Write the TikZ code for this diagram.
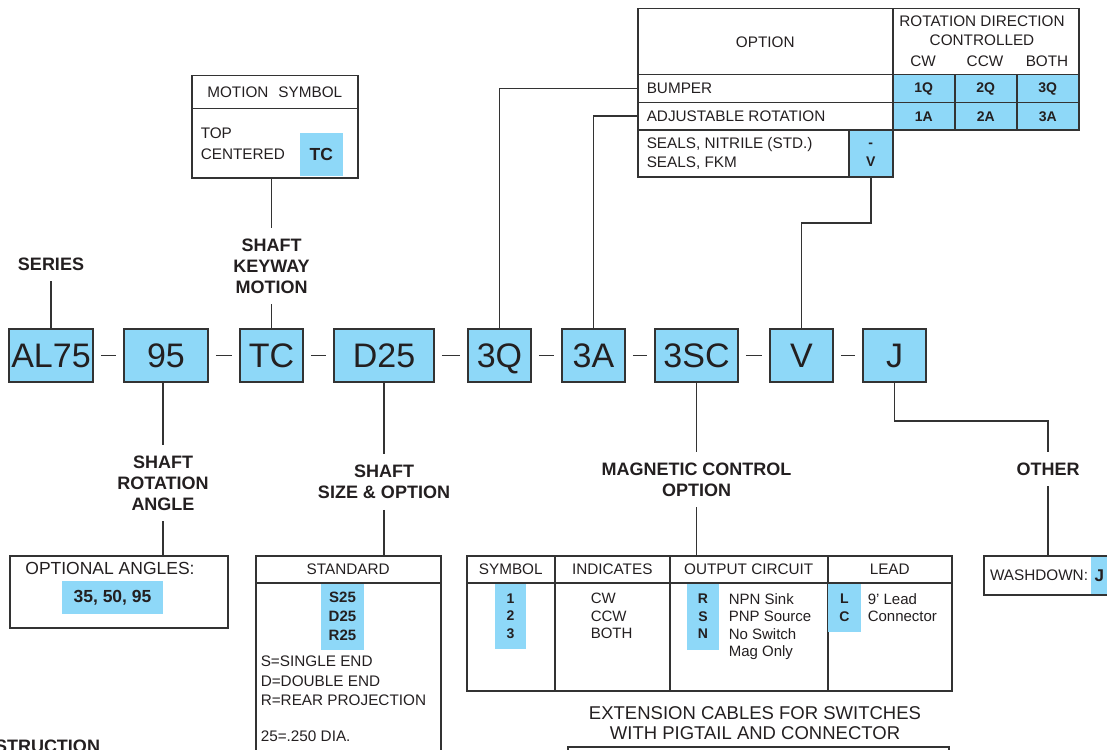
\documentclass[tikz,border=0pt]{standalone}
\usepackage{fontspec}
\setmainfont{Liberation Sans}
\usetikzlibrary{positioning, calc}
\definecolor{cblue}{HTML}{8ED8F8}
\definecolor{cline}{HTML}{333333}
\definecolor{ctext}{HTML}{231F20}
\tikzset{
  every picture/.style={line width=1.5pt, color=cline},
  every node/.style={text=ctext},
  code/.style={draw, fill=cblue, minimum height=53pt, inner sep=0pt, text height=24.4pt, text depth=0pt, font=\fontsize{34}{34}\selectfont},
  lbl/.style={font=\bfseries\fontsize{18}{21}\selectfont, align=center, inner sep=0pt, outer sep=11pt},
  cell/.style 2 args={draw, anchor=north west, minimum width=#1, minimum height=#2, inner sep=0pt, align=center, font=\fontsize{15.3}{19.5}\selectfont},
  bcell/.style={fill=cblue, font=\bfseries\fontsize{14}{19.5}\selectfont},
  bfill/.style={fill=cblue, inner sep=0pt, align=center, font=\bfseries\fontsize{14}{17.5}\selectfont},
  txt/.style={inner sep=0pt, align=left, font=\fontsize{15.3}{19.5}\selectfont},
  lst/.style={inner sep=0pt, align=left, font=\fontsize{15}{17.5}\selectfont},
}

\begin{document}
\begin{tikzpicture}[x=1pt, y=-1pt]
  \useasboundingbox (0,0) rectangle (1107,749);
  \clip (0,0) rectangle (1107,749);

  % part number
  \node[code, minimum width=84pt] (bAL) at (51,355.5) {AL75};
  \node[code, minimum width=84pt] (b95) at (166,355.5) {95};
  \node[code, minimum width=63pt] (bTC) at (271.5,355.5) {TC};
  \node[code, minimum width=100pt] (bD) at (384,355.5) {D25};
  \node[code, minimum width=63pt] (bQ) at (499.5,355.5) {3Q};
  \node[code, minimum width=63pt] (bA) at (593.5,355.5) {3A};
  \node[code, minimum width=83pt] (bSC) at (696.5,355.5) {3SC};
  \node[code, minimum width=63pt] (bV) at (801.5,355.5) {V};
  \node[code, minimum width=63pt] (bJ) at (894.5,355.5) {J};
  \foreach \a/\b in {bAL/b95, b95/bTC, bTC/bD, bD/bQ, bQ/bA, bA/bSC, bSC/bV, bV/bJ}
    \draw[shorten <=7pt, shorten >=7pt] (\a.east) -- (\b.west);

  % series
  \node[lbl] (lSeries) at (51,264) {SERIES};
  \draw (lSeries) -- (bAL);

  % motion symbol
  \node[cell={166pt}{33pt}] (mHead) at (191,75) {MOTION\hspace{10pt}SYMBOL};
  \node[cell={166pt}{69pt}] (mBody) at (191,108) {};
  \node[txt, right=9pt of mBody.west] (mText) {TOP\\[1.5pt]CENTERED};
  \node[bfill, minimum width=43pt, minimum height=43pt, anchor=south west, font=\bfseries\fontsize{17.5}{17.5}\selectfont] (mTC) at (299,176.25) {TC};
  \node[lbl] (lKey) at (271.5,266) {SHAFT\\KEYWAY\\MOTION};
  \draw (mBody.south -| lKey) -- (lKey);
  \draw (lKey) -- (bTC);

  % option table
  \node[cell={255pt}{66pt}] (oHead) at (637,8) {OPTION};
  \node[cell={186pt}{66pt}] (rHead) at (892,8) {};
  \node[txt, align=center] (rTitle) at (982,30.5) {ROTATION DIRECTION\\CONTROLLED};
  \foreach \n/\x/\t in {cw/923/CW, ccw/985/CCW, both/1047/BOTH}
    \node[txt] (\n) at (\x,61) {\t};
  \node[cell={255pt}{28pt}] (bumper) at (637,74) {};
  \node[txt, right=9pt of bumper.west] (tBumper) {BUMPER};
  \node[cell={255pt}{27pt}] (adj) at (637,102) {};
  \node[txt, right=9pt of adj.west] (tAdj) {ADJUSTABLE ROTATION};
  \foreach \x/\i in {892/1, 954/2, 1016/3} {
    \node[cell={62pt}{28pt}, bcell] (q\i) at (\x,74) {\i Q};
    \node[cell={62pt}{27pt}, bcell] (a\i) at (\x,102) {\i A};
  }
  \node[cell={211pt}{47pt}] (seals) at (637,129) {};
  \node[txt, right=9pt of seals.west] (tSeals) {SEALS, NITRILE (STD.)\\SEALS, FKM};
  \node[cell={44pt}{47pt}, bcell] (sealv) at (848,129) {\strut-\\\strut V};
  \draw (bQ.north) |- (bumper.west);
  \draw (bA.north) |- (adj.west);
  \draw (bV.north) |- (sealv.south |- 0,223) -- (sealv.south);

  % rotation angle
  \node[lbl] (lRot) at (163,483) {SHAFT\\ROTATION\\ANGLE};
  \draw (b95.south -| lRot) -- (lRot);
  \node[cell={218pt}{72pt}] (angBox) at (9,555) {};
  \draw (lRot) -- (lRot |- angBox.north);
  \node[txt, font=\fontsize{17.5}{20}\selectfont] (angTitle) at (110,568) {OPTIONAL ANGLES:};
  \node[bfill, minimum width=101pt, minimum height=33pt, font=\bfseries\fontsize{17.5}{20}\selectfont] (angVal) at (112.5,597.5) {35, 50, 95};

  % shaft size
  \node[lbl] (lSize) at (384,482) {SHAFT\\SIZE \& OPTION};
  \draw (bD) -- (lSize);
  \node[cell={185pt}{27pt}] (stdHead) at (255,555) {STANDARD};
  \node[cell={185pt}{200pt}] (stdBody) at (255,582) {};
  \draw (lSize) -- (lSize |- stdHead.north);
  \node[bfill, minimum width=43pt, minimum height=66pt, anchor=north, font=\bfseries\fontsize{15}{19}\selectfont] (stdCodes) at (342.5,582.75) {S25\\D25\\R25};
  \node[txt, anchor=north west] (stdNotes) at (260,655.5) {S=SINGLE END\\D=DOUBLE END\\R=REAR PROJECTION\\[16.5pt]25=.250 DIA.};

  % magnetic control
  \node[lbl] (lMag) at (696.5,479.5) {MAGNETIC CONTROL\\OPTION};
  \draw (bSC) -- (lMag);
  \foreach \n/\x/\w/\t in {sym/466/88/SYMBOL, ind/554/115/INDICATES, out/669/158/OUTPUT CIRCUIT, lead/827/124/LEAD} {
    \node[cell={\w pt}{27pt}] (\n Head) at (\x,555) {\t};
    \node[cell={\w pt}{108pt}] (\n Body) at (\x,582) {};
  }
  \draw (lMag) -- (lMag |- outHead.north);
  \node[bfill, minimum width=31pt, minimum height=65pt, anchor=north] (symCodes) at (510.5,582.75) {1\\2\\3};
  \node[lst, anchor=north west] (indText) at (590,592.5) {CW\\CCW\\BOTH};
  \node[bfill, minimum width=32pt, minimum height=66pt, anchor=north] (outCodes) at (703,582.75) {R\\S\\N};
  \node[lst, anchor=north west] (outText) at (728,592.5) {NPN Sink\\PNP Source\\No Switch\\Mag Only};
  \node[bfill, minimum width=33pt, minimum height=48pt, anchor=north] (leadCodes) at (844.5,582.75) {L\\C};
  \node[lst, anchor=north west] (leadText) at (867,592.5) {9’ Lead\\Connector};

  % other
  \node[lbl] (lOther) at (1048,469) {OTHER};
  \draw (bJ.south) |- (lOther.north |- 0,421) -- (lOther.north);
  \node[cell={140pt}{39pt}] (wash) at (983,555) {};
  \draw (lOther) -- (lOther |- wash.north);
  \node[bfill, minimum width=17pt, minimum height=37.5pt, anchor=north west, font=\bfseries\fontsize{17}{17}\selectfont] (washJ) at (1090,555.75) {J};
  \node[txt] (washText) at (1039,575) {WASHDOWN:};

  % extension cables
  \node[txt, align=center, font=\fontsize{18.5}{20}\selectfont] (extTitle) at (755,723) {EXTENSION CABLES FOR SWITCHES\\WITH PIGTAIL AND CONNECTOR};
  \node[cell={381pt}{30pt}] (extBox) at (567,746) {};

  \node[lbl, anchor=north east, outer sep=0pt] (cutTitle) at (100,740) {STRUCTION};
\end{tikzpicture}
\end{document}
